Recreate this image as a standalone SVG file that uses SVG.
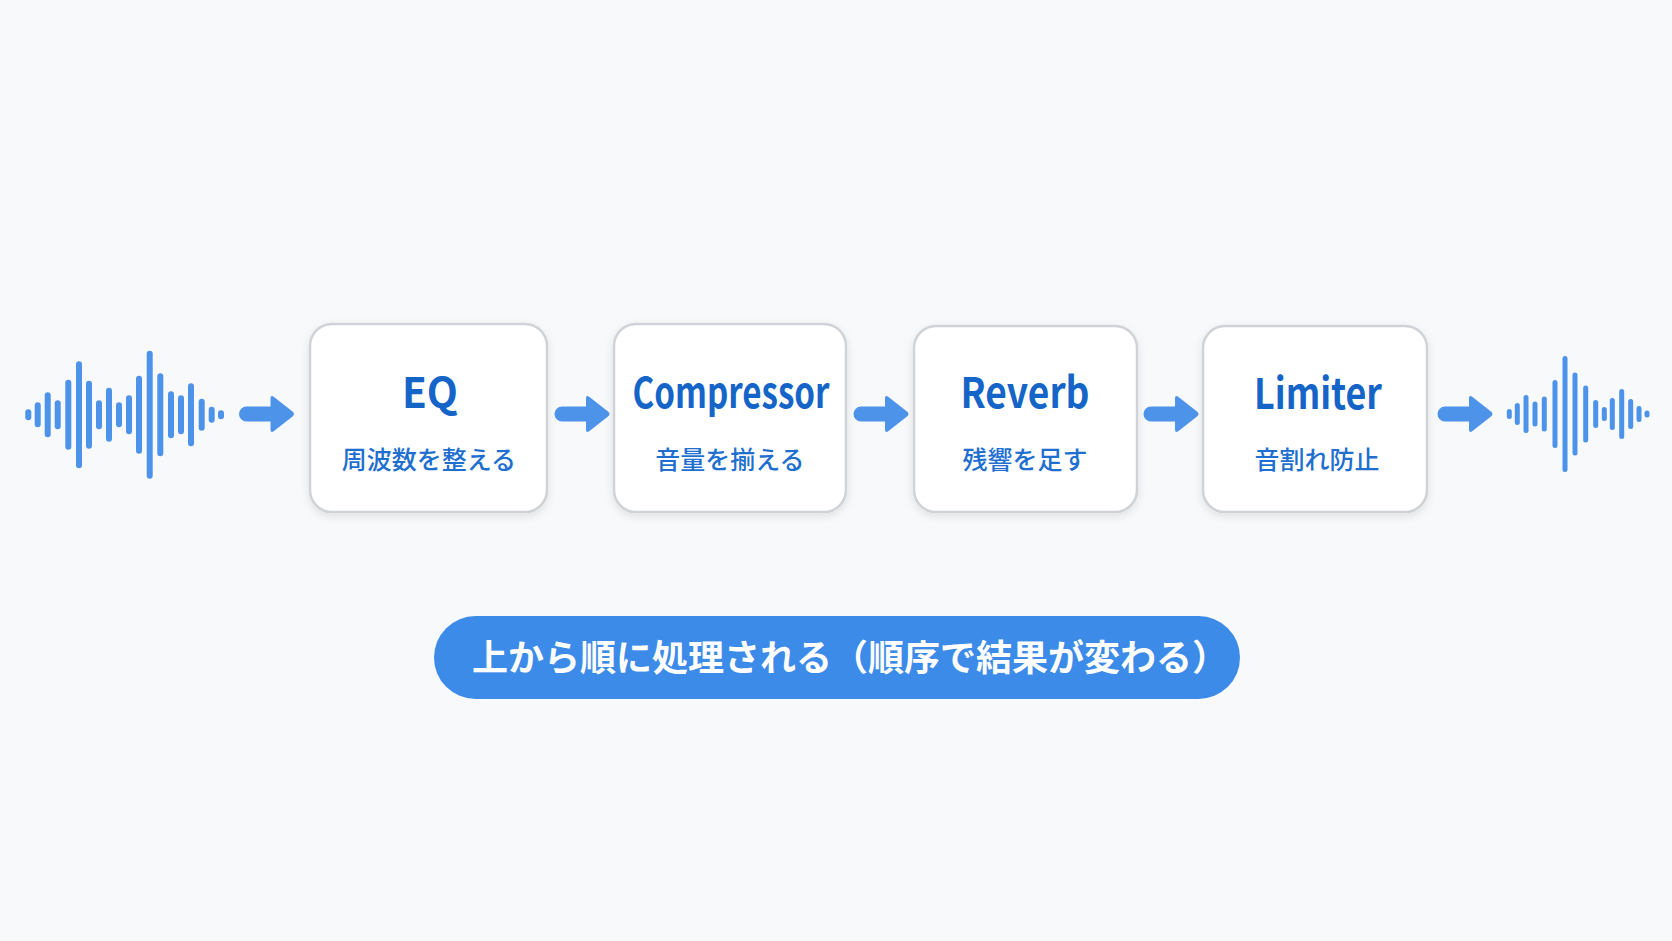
<svg xmlns="http://www.w3.org/2000/svg" width="1672" height="941" viewBox="0 0 1672 941">
<defs>
<filter id="sh" x="-10%" y="-10%" width="120%" height="130%">
<feDropShadow dx="0" dy="3" stdDeviation="4" flood-color="#000" flood-opacity="0.10"/>
</filter>
<g id="arr">
<path d="M0,-7.5 L24,-7.5 L24,-15.5 Q24,-19.5 27.5,-17 L46,-2.5 Q49,0 46,2.5 L27.5,17 Q24,19.5 24,15.5 L24,7.5 L0,7.5 A7.5,7.5 0 0 1 0,-7.5 Z" fill="#4d93ea"/>
</g>
</defs>
<style>
.box{fill:#ffffff;stroke:#cfd2d6;stroke-width:2.5;filter:url(#sh)}
.t{font-family:"Noto Sans CJK JP","Liberation Sans",sans-serif;font-weight:700;font-size:42px;fill:#1565c8;text-anchor:middle}
.s{font-family:"Noto Sans CJK JP",sans-serif;font-weight:500;font-size:25px;fill:#1e6fd0;text-anchor:middle}
.w rect{fill:#4d93ea}
.p{font-family:"Noto Sans CJK JP",sans-serif;font-weight:700;font-size:36px;fill:#ffffff}
</style>
<rect width="1672" height="941" fill="#f8f9fa"/>
<g id="wave-in" class="w">
<rect x="25.3" y="409.2" width="6" height="11" rx="3"/>
<rect x="34.7" y="402.2" width="6" height="25" rx="3"/>
<rect x="44.7" y="392.2" width="6" height="45" rx="3"/>
<rect x="54.7" y="400.2" width="6" height="29" rx="3"/>
<rect x="65.3" y="379.7" width="6" height="70" rx="3"/>
<rect x="76" y="361.2" width="6" height="107" rx="3"/>
<rect x="86" y="380.7" width="6" height="68" rx="3"/>
<rect x="96" y="400.2" width="6" height="29" rx="3"/>
<rect x="106" y="387.7" width="6" height="54" rx="3"/>
<rect x="116" y="402.2" width="6" height="25" rx="3"/>
<rect x="126" y="395.2" width="6" height="39" rx="3"/>
<rect x="136" y="375.7" width="6" height="78" rx="3"/>
<rect x="146.7" y="350.7" width="6" height="128" rx="3"/>
<rect x="157.3" y="373.2" width="6" height="83" rx="3"/>
<rect x="168" y="391.2" width="6" height="47" rx="3"/>
<rect x="178" y="395.2" width="6" height="39" rx="3"/>
<rect x="188" y="383.2" width="6" height="63" rx="3"/>
<rect x="198.7" y="398.7" width="6" height="32" rx="3"/>
<rect x="208.7" y="406.7" width="6" height="16" rx="3"/>
<rect x="218" y="410.2" width="6" height="9" rx="3"/>
</g>
<g id="wave-out" class="w">
<rect x="1506.8" y="409" width="5" height="10" rx="2.5"/>
<rect x="1514.8" y="403" width="5" height="22" rx="2.5"/>
<rect x="1523.5" y="395" width="5" height="38" rx="2.5"/>
<rect x="1532.5" y="401.5" width="5" height="25" rx="2.5"/>
<rect x="1541.8" y="396.5" width="5" height="35" rx="2.5"/>
<rect x="1552.5" y="380" width="5" height="68" rx="2.5"/>
<rect x="1562.5" y="356" width="5" height="116" rx="2.5"/>
<rect x="1572.5" y="372.5" width="5" height="83" rx="2.5"/>
<rect x="1583.2" y="385.5" width="5" height="57" rx="2.5"/>
<rect x="1593.2" y="400" width="5" height="28" rx="2.5"/>
<rect x="1601.8" y="407" width="5" height="14" rx="2.5"/>
<rect x="1609.8" y="398" width="5" height="32" rx="2.5"/>
<rect x="1619.2" y="389" width="5" height="50" rx="2.5"/>
<rect x="1628.2" y="399" width="5" height="30" rx="2.5"/>
<rect x="1636.5" y="406" width="5" height="16" rx="2.5"/>
<rect x="1644.5" y="410.5" width="5" height="7" rx="2.5"/>
</g>
<g id="connectors">
<use href="#arr" x="246.5" y="414"/>
<use href="#arr" x="562" y="414"/>
<use href="#arr" x="861" y="414"/>
<use href="#arr" x="1151" y="414"/>
<use href="#arr" x="1445" y="414"/>
</g>
<g id="eq">
<rect class="box" x="310" y="324" width="237" height="188" rx="22"/>
<text class="t" x="430" y="408" textLength="56" lengthAdjust="spacingAndGlyphs">EQ</text>
<text class="s" x="429" y="469">周波数を整える</text>
</g>
<g id="compressor">
<rect class="box" x="614" y="324" width="232" height="188" rx="22"/>
<text class="t" x="731" y="408" textLength="197" lengthAdjust="spacingAndGlyphs">Compressor</text>
<text class="s" x="730" y="469">音量を揃える</text>
</g>
<g id="reverb">
<rect class="box" x="914" y="326" width="223" height="186" rx="22"/>
<text class="t" x="1025" y="408" textLength="129" lengthAdjust="spacingAndGlyphs">Reverb</text>
<text class="s" x="1025" y="469">残響を足す</text>
</g>
<g id="limiter">
<rect class="box" x="1203" y="326" width="224" height="186" rx="22"/>
<text class="t" x="1318" y="409" textLength="128" lengthAdjust="spacingAndGlyphs">Limiter</text>
<text class="s" x="1317" y="469">音割れ防止</text>
</g>
<g id="note">
<rect x="434" y="616" width="806" height="83" rx="41.5" fill="#3d8be8"/>
<text class="p" x="472" y="671">上から順に処理される（順序で結果が変わる）</text>
</g>
</svg>
